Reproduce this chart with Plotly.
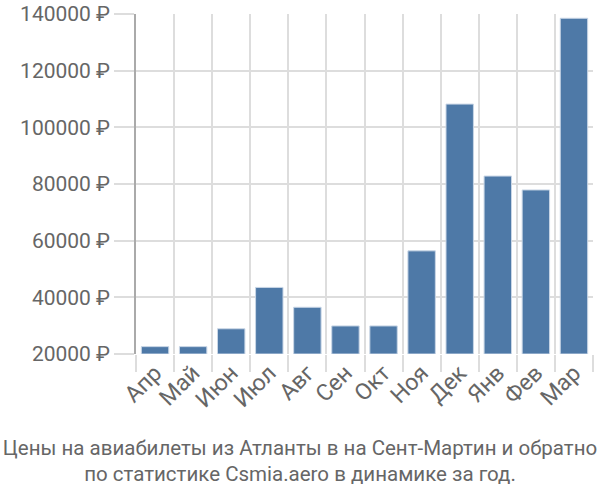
import plotly.graph_objects as go

months = ["Апр", "Май", "Июн", "Июл", "Авг", "Сен", "Окт", "Ноя", "Дек", "Янв", "Фев", "Мар"]
prices = [22600, 22600, 28900, 43500, 36500, 29900, 29900, 56400, 108200, 82800, 77900, 138500]
y_ticks = [20000, 40000, 60000, 80000, 100000, 120000, 140000]
y_tick_labels = [f"{v} ₽" for v in y_ticks]
title_text = "Цены на авиабилеты из Атланты в на Сент-Мартин и обратно<br>по статистике Csmia.aero в динамике за год."

base_value = 20000

fig = go.Figure()
fig.add_trace(go.Bar(
    x=months,
    y=[p - base_value for p in prices],
    base=base_value,
    marker=dict(color="#4E79A7", line=dict(color="#c9d6e6", width=1)),
    hoverinfo="skip",
))

fig.update_layout(
    width=600, height=500,
    margin=dict(l=136, r=7, t=14, b=146, autoexpand=False),
    paper_bgcolor="white", plot_bgcolor="white",
    bargap=0.28,
    showlegend=False,
    font=dict(family="Roboto, Liberation Sans, sans-serif", color="#666666"),
    title=dict(
        text=title_text,
        x=0.5, xref="container", xanchor="center",
        y=1 - 454.5 / 500, yref="container", yanchor="middle",
        font=dict(family="Liberation Sans Narrow, Roboto, sans-serif", size=20.5, color="#666666"),
    ),
)

fig.update_xaxes(
    type="category",
    tickson="boundaries",
    showgrid=True, gridcolor="#dddddd", gridwidth=1.5,
    ticks="outside", ticklen=17, tickcolor="#dddddd", tickwidth=1.5,
    tickangle=-45,
    tickfont=dict(size=23, color="#666666"),
    showline=False,
    automargin=False,
)
fig.update_yaxes(
    range=[20000, 140000],
    tickvals=y_ticks, ticktext=y_tick_labels,
    showgrid=True, gridcolor="#dddddd", gridwidth=1.5,
    ticks="outside", ticklen=20, tickcolor="#dddddd", tickwidth=1.5,
    tickfont=dict(size=21, color="#666666"),
    showline=True, linecolor="#aaaaaa", linewidth=1.5,
    zeroline=False,
    automargin=False,
)

fig.write_html("out.html")
